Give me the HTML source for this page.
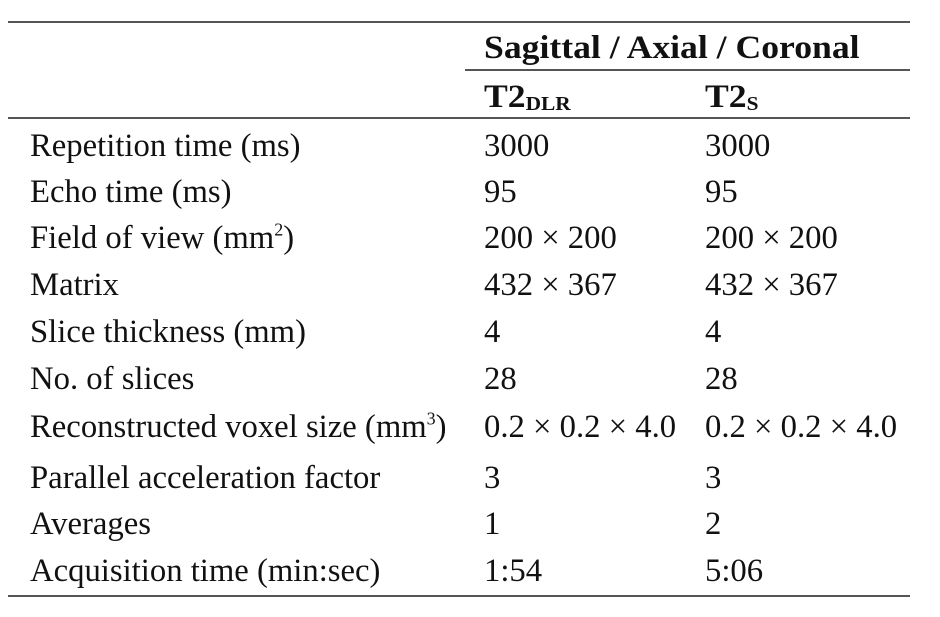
<!DOCTYPE html>
<html><head><meta charset="utf-8"><style>
body{margin:0;background:#fff;}
#t{position:relative;width:940px;height:617px;font-family:"Liberation Serif",serif;font-size:32.7px;color:#111;overflow:hidden}
.x{position:absolute;line-height:32px;white-space:nowrap}
.b{font-weight:bold;font-size:33px;transform:scaleX(1.08);transform-origin:left center}
.r{position:absolute;height:2px;background:#555}
sub{font-size:0.6em;vertical-align:-0.15em}
sup{font-size:0.55em;vertical-align:0.7em;line-height:0}
</style></head><body>
<div id="t">
<div class="r" style="left:8px;width:902px;top:21px"></div>
<div class="x b" style="left:484px;top:32px">Sagittal / Axial / Coronal</div>
<div class="r" style="left:465px;width:445px;top:69px;height:1.5px"></div>
<div class="x b" style="left:484px;top:81px">T2<sub>DLR</sub></div>
<div class="x b" style="left:705px;top:81px">T2<sub>S</sub></div>
<div class="r" style="left:8px;width:902px;top:117px;height:1.5px"></div>
<div class="r" style="left:8px;width:902px;top:595px"></div>
</div>
<script>
const labels=["Repetition time (ms)","Echo time (ms)","Field of view (mm<sup>2</sup>)","Matrix","Slice thickness (mm)","No. of slices","Reconstructed voxel size (mm<sup>3</sup>)","Parallel acceleration factor","Averages","Acquisition time (min:sec)"];
const dlr=["3000","95","200 × 200","432 × 367","4","28","0.2 × 0.2 × 4.0","3","1","1:54"];
const std=["3000","95","200 × 200","432 × 367","4","28","0.2 × 0.2 × 4.0","3","2","5:06"];
const baselines=[157,203,249,296,343,390,438,489,535,582];
const t=document.getElementById('t');
labels.forEach((l,i)=>{
  [[30,l,'row-label'],[484,dlr[i],'t2dlr-value'],[705,std[i],'t2s-value']].forEach(([x,v,n])=>{
    const d=document.createElement('div');
    d.className='x';
    d.style.left=x+'px';d.style.top=(baselines[i]-27)+'px';
    d.innerHTML=v;
    
    
    t.appendChild(d);
  });
});
</script>
</body></html>
